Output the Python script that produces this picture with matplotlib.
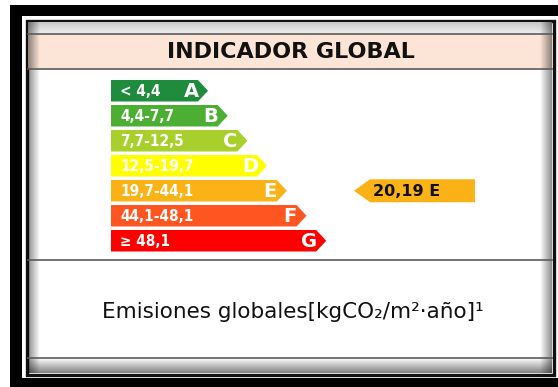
import numpy as np
import matplotlib.pyplot as plt
from matplotlib.patches import Polygon, Rectangle

# escala de emisiones globales
clases = ['A', 'B', 'C', 'D', 'E', 'F', 'G']
rangos = ['< 4,4', '4,4-7,7', '7,7-12,5', '12,5-19,7', '19,7-44,1', '44,1-48,1', '≥ 48,1']
colores = ['#1e8b3d', '#4caf34', '#a8cf2b', '#ffff00', '#fbb217', '#ff5521', '#ff0000']
valor = 20.19
clase_valor = 'E'

titulo = 'INDICADOR GLOBAL'
unidad = 'Emisiones globales[kgCO₂/m²·año]¹'

W, H = 558, 387
fig = plt.figure(figsize=(W / 100, H / 100), dpi=100)
ax = fig.add_axes([0, 0, 1, 1])


def sombra(x0, x1, y0, y1, a0, a1, horizontal=True, z=6):
    # degradado negro semitransparente
    n = 64
    alpha = np.linspace(a0, a1, n)
    if horizontal:
        img = np.zeros((1, n, 4))
        img[0, :, 3] = alpha
    else:
        img = np.zeros((n, 1, 4))
        img[:, 0, 3] = alpha
    ax.imshow(img, extent=(x0, x1, y1, y0), origin='upper', aspect='auto',
              interpolation='bilinear', zorder=z)


# marco exterior
ax.add_patch(Rectangle((10, 5), W, H, color='black', lw=0, zorder=0))
ax.add_patch(Rectangle((22, 16), 536, 362, color='white', lw=0, zorder=0))

# panel interior
ax.add_patch(Rectangle((26.5, 21), 527, 353.5, facecolor='white', edgecolor='#111111',
                       lw=2.4, zorder=1))
ax.add_patch(Rectangle((28, 34), 524, 34, color='#fce5d6', lw=0, zorder=1))
ax.add_patch(Rectangle((28, 22), 524, 11.5, color='#ececec', lw=0, zorder=1))
sombra(28, 552, 22, 33.5, 0.18, 0.0, horizontal=False)
sombra(28, 552, 358, 373, 0.0, 0.5, horizontal=False)
sombra(28, 40, 22, 373, 0.45, 0.0)
sombra(540, 552, 22, 373, 0.0, 0.45)
for y in [33.5, 68.5, 260, 357.5]:
    ax.plot([28, 552], [y, y], color='#5a5a5a', lw=1.2, zorder=7)

ax.text(291, 52, titulo, ha='center', va='center', fontsize=16, fontweight='bold',
        color='#111111', zorder=8)

# barras de la escala
x0 = 111
y0 = 80
alto = 21.5
paso = 25
largo0 = 87
inc = 19.7
punta = 10
for i, (c, r, col) in enumerate(zip(clases, rangos, colores)):
    top = y0 + i * paso
    xs = x0 + largo0 + i * inc
    yc = top + alto / 2
    pts = [(x0, top), (xs, top), (xs + punta, yc), (xs, top + alto), (x0, top + alto)]
    ax.add_patch(Polygon(pts, closed=True, facecolor=col, edgecolor='none', zorder=3))
    ax.text(x0 + 9, yc + 1, r, color='white', fontweight='bold', fontsize=11,
            fontstretch='condensed', ha='left', va='center', zorder=4)
    ax.text(xs + punta - 17, yc + 1, c, color='white', fontweight='bold', fontsize=14,
            ha='center', va='center', zorder=4)

# flecha del indicador
k = clases.index(clase_valor)
yc = y0 + k * paso + alto / 2
pts = [(354, yc), (370, yc - 11.5), (475, yc - 11.5), (475, yc + 11.5), (370, yc + 11.5)]
ax.add_patch(Polygon(pts, closed=True, facecolor=colores[k], edgecolor='none', zorder=3))
etiqueta = f'{valor:.2f}'.replace('.', ',') + ' ' + clase_valor
ax.text(407, yc + 1, etiqueta, color='#111111', fontweight='bold', fontsize=11.5,
        ha='center', va='center', zorder=4)

ax.text(293, 312, unidad, ha='center', va='center', fontsize=15.5, color='#111111', zorder=8)

ax.set_xlim(0, W)
ax.set_ylim(H, 0)
ax.axis('off')
fig.savefig('out.png', dpi=100)
